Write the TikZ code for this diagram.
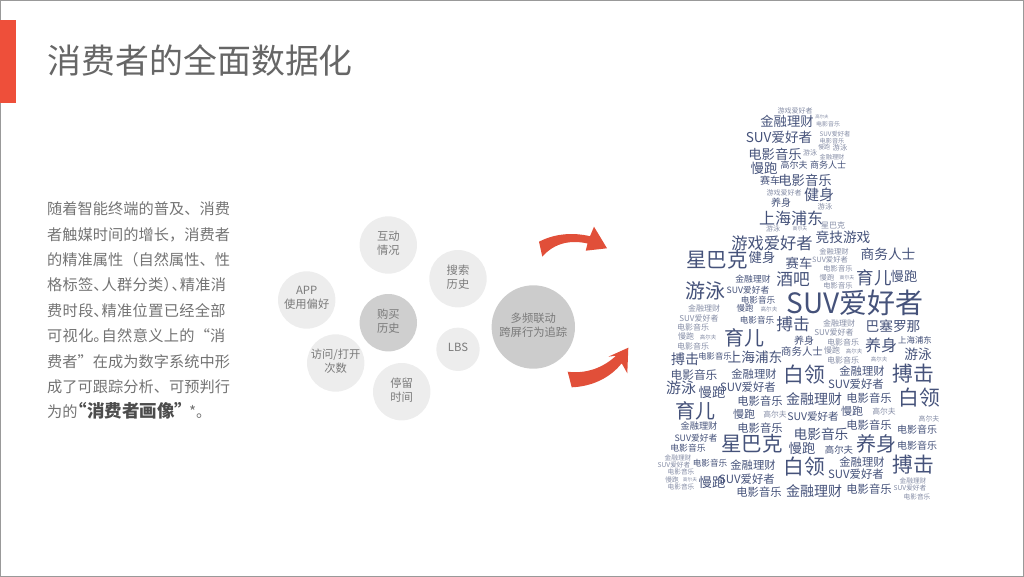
\documentclass[tikz,border=0pt]{standalone}
\usepackage{fontspec}
\setmainfont{Noto Sans CJK SC}
\XeTeXlinebreaklocale "zh"
\XeTeXlinebreakskip=0pt plus 2pt minus 0.3pt
\definecolor{redbar}{HTML}{EE4F3A}
\definecolor{redarrow}{HTML}{E14F39}
\definecolor{clouddark}{HTML}{45527A}
\definecolor{cloudfaint}{HTML}{858DA6}
\tikzset{
    mybubble/.style = {circle, draw=none, fill=#1, align=center, minimum size=57.4pt, inner sep=0pt, text depth=4.5pt, font=\fontsize{11.3}{14}\selectfont, text=black!52},
    mybubble/.default = black!7,
    mycloud/.style = {inner sep=0pt, text=clouddark},
    mycloudf/.style = {inner sep=0pt, text=cloudfaint},
}
\begin{document}
\begin{tikzpicture}[x=1pt,y=-1pt]
\useasboundingbox (0,0) rectangle (1024,577);
\draw[black!40, line width=1pt] (0.5,0.5) rectangle (1023.5,576.5);
\fill[redbar] (0,20) rectangle (16,103);
\node[anchor=west, inner sep=0pt, font=\fontsize{33.9}{40}\selectfont, text=black!60] at (47.50,60.00) (title) {消费者的全面数据化};
% left text
\node[anchor=north west, inner sep=0pt, text width=183.5pt, font=\fontsize{15.2}{25.4}\selectfont, text=black!55] at (47.00,201.70) (body) {随着智能终端的普及、消费\linebreak
者触媒时间的增长，消费者\linebreak
的精准属性（自然属性、性\linebreak
格标签、\hspace{-7pt}人群分类）\hspace{-7pt}、\hspace{-7pt}精准消\linebreak
费时段、\hspace{-7pt}精准位置已经全部\linebreak
可视化。\hspace{-7pt}自然意义上的“消\linebreak
费者”在成为数字系统中形\linebreak
成了可跟踪分析、可预判行\linebreak
为的\hspace{-8pt}{\fontsize{17.5}{25.4}\selectfont\bfseries\color{black!70}“消费者画像”}\hspace{-3pt}*。};
% bubbles
\node[mybubble] at (388.30,245.00) (hudong) {互动\\情况};
\node[mybubble] at (458.00,278.70) (sousuo) {搜索\\历史};
\node[mybubble] at (306.70,300.00) (app) {APP\\使用偏好};
\node[mybubble=black!19] at (388.30,322.70) (goumai) {购买\\历史};
\node[mybubble] at (335.70,363.00) (fangwen) {访问/打开\\次数};
\node[mybubble, minimum size=43.4pt] at (458.00,349.30) (lbs) {LBS};
\node[mybubble] at (401.70,391.70) (tingliu) {停留\\时间};
\node[mybubble=black!20, minimum size=83.4pt] at (533.30,327.00) (duopin) {多频联动\\跨屏行为追踪};
% arrows
\fill[redarrow] (542.30,256.70) -- (539.00,241.70) .. controls (556.00,233.00) and (574.00,232.50) .. (590.00,236.20)
    -- (594.00,226.70) -- (607.00,248.30) -- (585.70,250.70) -- (587.50,243.50)
    .. controls (572.00,240.00) and (555.00,242.00) .. cycle;
\fill[redarrow] (567.70,371.70) .. controls (586.00,374.00) and (603.00,368.00) .. (616.00,355.70)
    -- (608.30,356.70) -- (628.30,347.70) -- (627.30,373.30) -- (621.70,363.30)
    .. controls (610.00,378.00) and (592.00,386.50) .. (571.70,387.30) -- cycle;
% word cloud, small words
\foreach \x/\y/\sz/\txt [count=\i] in {
795/111/7/游戏爱好者, 822/117/4.4/高尔夫, 828/124/6/电影音乐, 835/134/6.3/SUV爱好者, 832/141/6.2/电影音乐,
824/147/6/慢跑, 840/148/7.3/游泳, 810/153/7/游泳, 832/157/6.2/金融理财, 784/193/7/游戏爱好者,
825/207/7.3/游泳, 833/225/8/星巴克, 773/229/7/游泳, 800/229/4.9/高尔夫, 834/252/7.3/金融理财,
830/260/7.3/SUV爱好者, 838/269/7.3/电影音乐, 827/278/7.3/慢跑, 847/278/4.9/高尔夫, 838/286/7.3/电影音乐,
704/308/8/金融理财, 769/309/5.6/高尔夫, 699/318/8/SUV爱好者, 839/323/8/金融理财, 693/327/8/电影音乐,
834/332/8/SUV爱好者, 686/336/8/慢跑, 708/337/5.5/高尔夫, 843/342/8/电影音乐, 693/346/8/电影音乐,
832/350/8/慢跑, 854/351/5.5/高尔夫, 843/360/8/电影音乐, 879/359/5.5/高尔夫, 775/415/7.8/高尔夫,
884/412/7.8/高尔夫, 929/419/6.9/高尔夫, 678/457.5/6.7/金融理财, 674/464.5/6.7/SUV爱好者, 681/472/6.7/电影音乐,
672/480/6.7/慢跑, 690/480/4.7/高尔夫, 681/487/6.7/电影音乐, 913/481/6.7/金融理财, 910/488/6.7/SUV爱好者,
917/497/6.7/电影音乐} \node[mycloudf] at (\x,\y) (f\i) {\fontsize{\sz}{\sz}\selectfont \txt};
% word cloud, big words
\foreach \x/\y/\sz/\txt [count=\i] in {
787/121/13.3/金融理财, 779/137/13.6/SUV爱好者, 775/154/13.3/电影音乐, 764/168/13.5/慢跑, 794/165.5/9/高尔夫,
828/165/9/商务人士, 770/181/10/赛车, 805/180/13.3/电影音乐, 819/195/15/健身, 781/203/10/养身,
791/218/16/上海浦东, 843/237/13.7/竞技游戏, 772/243/16.3/游戏爱好者, 888/254/13.7/商务人士, 717/260/20.5/星巴克,
762/257/13.3/健身, 799/263/13.3/赛车, 753/279/8.8/金融理财, 793/279/16.7/酒吧, 874/278/17.5/育儿,
904/276/13.3/慢跑, 705/291/20/游泳, 748/290/8.7/SUV爱好者, 758/300/8.6/电影音乐, 745/308/8.4/慢跑,
855/303/28/SUV爱好者, 757/320/8.6/电影音乐, 793/324/16.7/搏击, 893/326/13.7/巴塞罗那, 744/338/20/育儿,
804/341/10/养身, 881/345/16/养身, 915/340.5/8.4/上海浦东, 802/352/10.4/商务人士, 918/354/13.7/游泳,
685/359/14/搏击, 715/356/8.3/电影音乐, 755/357/13.7/上海浦东, 694/375/11.7/电影音乐, 754/374/11.3/金融理财,
804/375/20.8/白领, 862/371/11.3/金融理财, 913/374/20.8/搏击, 681/388/15/游泳, 712/392/13.3/慢跑,
748/387/11.4/SUV爱好者, 856/384/11.4/SUV爱好者, 919/398/20.8/白领, 760/401/11.3/电影音乐, 814/399/14/金融理财,
869/398/11.3/电影音乐, 695/411/20/育儿, 744/414/11/慢跑, 813/417/10.5/SUV爱好者, 852/411/11/慢跑,
699/426/9.2/金融理财, 760/428/11.3/电影音乐, 869/425/11.3/电影音乐, 821/434/13.7/电影音乐, 917/430/10/电影音乐,
696/438/8.8/SUV爱好者, 752/444/20.5/星巴克, 688/448/8.8/电影音乐, 802/448/13.3/慢跑, 839/450/9.4/高尔夫,
876/444/20/养身, 917/446/10/电影音乐, 710/463/8.6/电影音乐, 753/465/11.3/金融理财, 804/467/20.8/白领,
862/462/11.3/金融理财, 913/465/20.8/搏击, 712/482/13.3/慢跑, 747/479/11.4/SUV爱好者, 856/474/11.4/SUV爱好者,
759/492/11.3/电影音乐, 814/491/14/金融理财, 869/489/11.3/电影音乐} \node[mycloud] at (\x,\y) (w\i) {\fontsize{\sz}{\sz}\selectfont \txt};
\end{tikzpicture}
\end{document}
